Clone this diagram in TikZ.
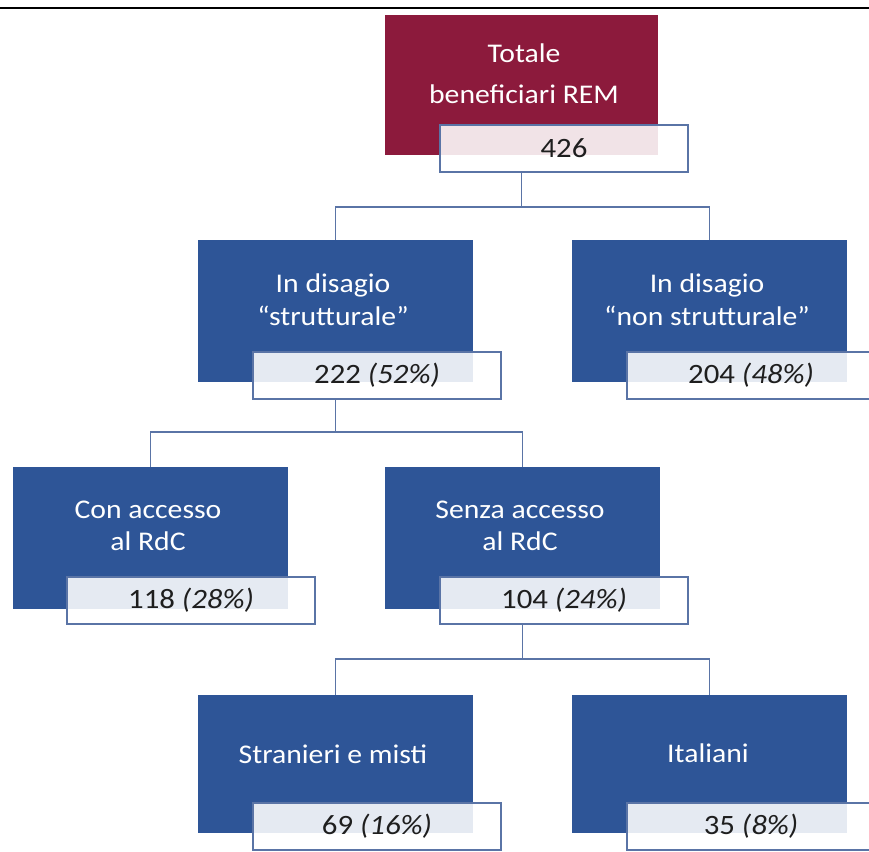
\documentclass[tikz,border=0pt]{standalone}
\usepackage{fontspec}
\setmainfont{Carlito}[FakeStretch=1.1]
\definecolor{boxblue}{HTML}{2E5597}
\definecolor{boxred}{HTML}{8C1A3C}
\definecolor{linec}{HTML}{5A74A6}
\definecolor{txt}{HTML}{1E1E1E}
\begin{document}
\begin{tikzpicture}[x=1pt,y=-1pt,
  bigbox/.style={draw=none, minimum width=275pt, minimum height=142pt, anchor=north west, inner sep=0pt, outer sep=0pt},
  bluebox/.style={bigbox, fill=boxblue},
  redbox/.style={bigbox, fill=boxred},
  lbl/.style={draw=linec, line width=1.3pt, fill=white, fill opacity=0.88, text opacity=1, text=txt, minimum width=248pt, minimum height=47pt, anchor=north west, inner sep=0pt, outer sep=0pt, font=\fontsize{28}{32}\selectfont},
  btxt/.style={text=white, anchor=base, inner sep=0pt, font=\fontsize{27}{31}\selectfont},
  conn/.style={draw=linec, line width=1.3pt}]
\useasboundingbox (0,0) rectangle (869,851);
\fill[white] (0,0) rectangle (869,851);
\draw[line width=2.8pt] (0,8) -- (869,8);

% boxes
\node[redbox, minimum width=273pt, minimum height=140pt] (top) at (385,15) {};
\node[bluebox] (s) at (198,240) {};
\node[bluebox] (n) at (572,240) {};
\node[bluebox] (c) at (13,467) {};
\node[bluebox] (z) at (385,467) {};
\node[bluebox, minimum height=138pt] (f) at (198,695) {};
\node[bluebox, minimum height=138pt] (i) at (572,695) {};

% box texts
\node[btxt] (top1) at (524,63) {Totale};
\node[btxt] (top2) at (524,103) {beneficiari REM};
\node[btxt] (s1) at (333,292) {In disagio};
\node[btxt] (s2) at (333,325) {“strutturale”};
\node[btxt] (n1) at (707,292) {In disagio};
\node[btxt] (n2) at (707,325) {“non strutturale”};
\node[btxt] (c1) at (148,518) {Con accesso};
\node[btxt] (c2) at (148,550) {al RdC};
\node[btxt] (z1) at (520,518) {Senza accesso};
\node[btxt] (z2) at (520,550) {al RdC};
\node[btxt] (f1) at (333,763) {Stranieri e misti};
\node[btxt] (i1) at (708,762) {Italiani};

% labels
\node[lbl] (l426) at (440,125) {426};
\node[lbl] (ls) at (253,352) {222 \textit{(52\%)}};
\node[lbl] (ln) at (627,352) {204 \textit{(48\%)}};
\node[lbl] (lc) at (67,577) {118 \textit{(28\%)}};
\node[lbl] (lz) at (440,577) {104 \textit{(24\%)}};
\node[lbl] (lf) at (253,803) {69 \textit{(16\%)}};
\node[lbl] (li) at (627,803) {35 \textit{(8\%)}};

% connectors
\coordinate (j1) at (521.5,207);
\coordinate (j2) at (335.5,432);
\coordinate (j3) at (522.5,659);
\draw[conn] (top.south |- l426.south) -- (j1) -| (s.north);
\draw[conn] (j1) -| (n.north);
\draw[conn] (s.south |- ls.south) -- (j2) -| (c.north);
\draw[conn] (j2) -| (z.north);
\draw[conn] (z.south |- lz.south) -- (j3) -| (f.north);
\draw[conn] (j3) -| (i.north);
\end{tikzpicture}
\end{document}
